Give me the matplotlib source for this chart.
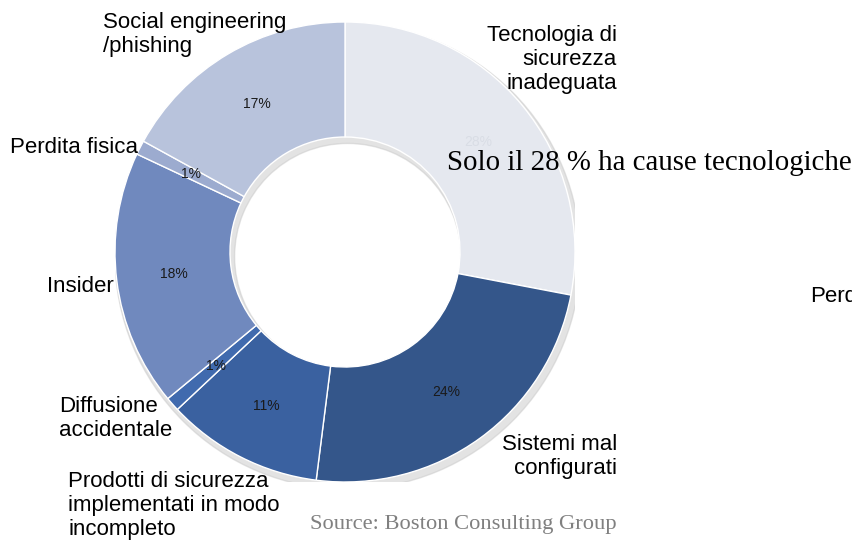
import numpy as np
import matplotlib.pyplot as plt
from matplotlib.patches import Wedge

# dati (in senso orario dalle ore 12)
categorie = ["Tecnologia di\nsicurezza\ninadeguata",
             "Sistemi mal\nconfigurati",
             "Prodotti di sicurezza\nimplementati in modo\nincompleto",
             "Diffusione\naccidentale",
             "Insider",
             "Perdita fisica",
             "Social engineering\n/phishing"]
valori = [28, 24, 11, 1, 18, 1, 17]
colori = ["#E5E8EF", "#34568A", "#3A61A0", "#406AAE", "#7089BE", "#9CABCF", "#B8C3DC"]
colori_pct = ["#D9DDE5", "#1A1A1A", "#1A1A1A", "#1A1A1A", "#1A1A1A", "#1A1A1A", "#1A1A1A"]

# posizione delle etichette (pixel, x, y dall'alto, allineamento)
pos_etichette = [(617, 25, "right"), (617, 434, "right"), (68, 471, "left"),
                 (59, 396, "left"), (47, 276, "left"), (10, 137, "left"),
                 (103, 12, "left")]

W, H = 853, 545
fig = plt.figure(figsize=(W / 100, H / 100), dpi=100)

# asse del grafico: centro (345, 252), raggio 230 px
cx, cy, r = 345, 252, 230
ax = fig.add_axes([(cx - r) / W, (H - cy - r) / H, 2 * r / W, 2 * r / H])

# ombra leggera attorno all'anello
ax.add_patch(Wedge((0.012, -0.02), 1.012, 0, 360, width=0.52, color="#C8C8C8", alpha=0.5, zorder=0))

wedges, testi, pct = ax.pie(valori, colors=colori, startangle=90, counterclock=False,
                            radius=1, wedgeprops=dict(width=0.5, edgecolor="white", linewidth=1),
                            autopct="%d%%", pctdistance=0.75,
                            textprops=dict(family="Liberation Sans", fontsize=10))
for t, c in zip(pct, colori_pct):
    t.set_color(c)
ax.set_xlim(-1, 1)
ax.set_ylim(-1, 1)
ax.axis("off")

for testo, (x, y, ha) in zip(categorie, pos_etichette):
    fig.text(x / W, 1 - y / H, testo, ha=ha, va="top", fontsize=16,
             family="Liberation Sans", color="black", linespacing=1.2)

fig.text(447 / W, 1 - 163 / H, "Solo il 28 % ha cause tecnologiche", ha="left", va="center",
         fontsize=20.8, family="Liberation Serif", color="black")
fig.text(810 / W, 1 - 297 / H, "Perdite", ha="left", va="center", fontsize=16,
         family="Liberation Sans", color="black")
fig.text(310 / W, 1 - 524 / H, "Source: Boston Consulting Group", ha="left", va="center",
         fontsize=16.2, family="Liberation Serif", color="#808080")

fig.savefig("out.png", dpi=100)
